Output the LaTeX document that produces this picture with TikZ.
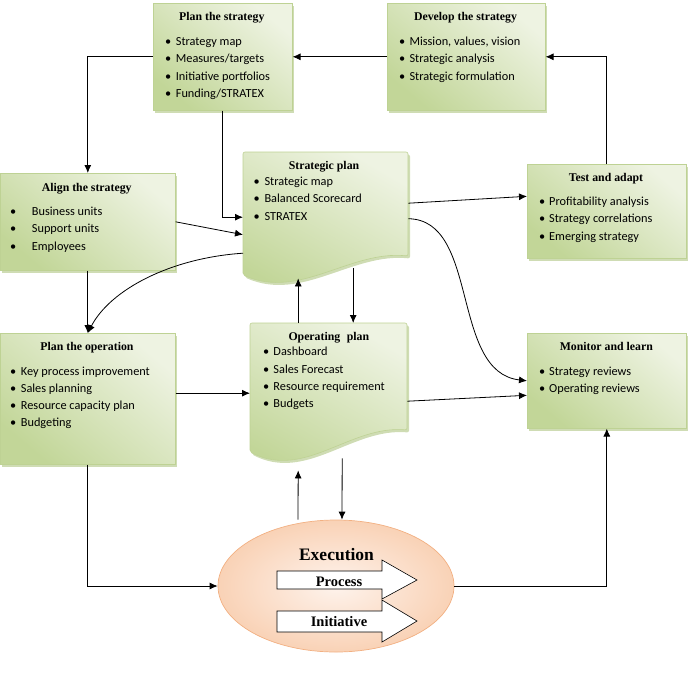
\documentclass[tikz,border=0pt]{standalone}
\usepackage{fontspec}
\setmainfont{Liberation Serif}
\newfontfamily\bodyfont{Carlito}
\usetikzlibrary{arrows.meta,shadows,calc,shapes.geometric}

\definecolor{gdark}{RGB}{194,214,152}
\definecolor{glight}{RGB}{238,243,226}
\definecolor{gline}{RGB}{190,210,148}
\definecolor{gshadow}{RGB}{168,192,118}
\definecolor{peach}{RGB}{249,210,182}
\definecolor{peachlight}{RGB}{254,243,236}
\definecolor{peachline}{RGB}{242,176,130}

% bullet followed by its text, the bullet in a box of width #1
\newcommand\blt[2]{\makebox[#1][l]{\textbullet}#2}

\tikzset{
  panel/.style={draw=gline, line width=0.6pt, top color=glight, bottom color=gdark,
    shading angle=-40, inner sep=0pt, anchor=north west,
    drop shadow={shadow xshift=2pt, shadow yshift=-2.5pt, fill=gshadow, opacity=0.55}},
  docpanel/.style={draw=gline, line width=0.6pt, top color=glight, bottom color=gdark,
    shading angle=-30, rounded corners=2pt,
    drop shadow={shadow xshift=2pt, shadow yshift=-2.5pt, fill=gshadow, opacity=0.55}},
  ghost/.style={inner sep=0pt, anchor=north west},
  ttl/.style={font=\fontsize{11.8}{13}\selectfont\bfseries, inner sep=0pt, anchor=base},
  item/.style={font=\bodyfont\fontsize{12.3}{14}\selectfont, inner sep=0pt, anchor=base west},
  arr/.style={-{Latex[length=8pt,width=7pt]}, line width=0.8pt},
  flow/.style={draw=black, line width=0.6pt, fill=white},
  flowtxt/.style={font=\fontsize{14.5}{16}\selectfont\bfseries, inner sep=0pt, anchor=base},
}

\begin{document}
\begin{tikzpicture}[x=1pt,y=-1pt]
\useasboundingbox (0,0) rectangle (688,678);

% ---------- rectangular panels ----------
\node[panel, minimum width=139pt, minimum height=107pt] (ps) at (153,3) {};
\node[panel, minimum width=158pt, minimum height=107pt] (ds) at (387,3) {};
\node[panel, minimum width=175pt, minimum height=97pt]  (as) at (0,173) {};
\node[panel, minimum width=159pt, minimum height=94pt]  (ta) at (527,164) {};
\node[panel, minimum width=175pt, minimum height=131pt] (po) at (0,333) {};
\node[panel, minimum width=159pt, minimum height=95pt]  (ml) at (527,333) {};

% ---------- document shapes ----------
\path[docpanel] (243,152) -- (408,152) -- (408,256)
  .. controls (350,250) and (300,300) .. (243,275) -- cycle;
\node[ghost, minimum width=165pt, minimum height=133pt] (sp) at (243,152) {};

\path[docpanel] (250,323) -- (407,323) -- (407,430)
  .. controls (350,425) and (305,480) .. (250,452) -- cycle;
\node[ghost, minimum width=157pt, minimum height=140pt] (op) at (250,323) {};

% ---------- execution ellipse ----------
\node[ellipse, draw=peachline, line width=0.7pt, inner color=peachlight, outer color=peach,
      minimum width=236pt, minimum height=132pt, inner sep=0pt] (ex) at (336,586) {};
\path[flow] (277,571) -- (382,571) -- (382,560) -- (417,580) -- (382,599)
  -- (382,589) -- (277,589) -- cycle;
\path[flow] (277,611) -- (382,611) -- (382,600) -- (417,621) -- (382,642)
  -- (382,632) -- (277,632) -- cycle;
\node[font=\fontsize{17.5}{19}\selectfont\bfseries, inner sep=0pt, anchor=base] (ex-t) at (336.5,560) {Execution};
\node[flowtxt] (ex-p) at (339,586.7) {Process};
\node[flowtxt] (ex-i) at (339,626.7) {Initiative};

% ---------- titles ----------
\node[ttl] (ps-t) at (221.8,20.7) {Plan the strategy};
\node[ttl] (ds-t) at (465.5,20.7) {Develop the strategy};
\node[ttl] (as-t) at (86.7,191.7) {Align the strategy};
\node[ttl] (sp-t) at (324,169.3) {Strategic plan};
\node[ttl] (ta-t) at (606,181.7) {Test and adapt};
\node[ttl] (po-t) at (87,350.7) {Plan the operation};
\node[ttl] (op-t) at (328.8,340.7) {Operating\hspace{0.55em}plan};
\node[ttl] (ml-t) at (606.3,350.7) {Monitor and learn};

% ---------- bullet lists ----------
\foreach \t [count=\i from 0] in {Strategy map, Measures/targets, Initiative portfolios, Funding/STRATEX}
  \node[item] (ps-\i) at (165,{45.7+17.2*\i}) {\blt{10.7pt}{\t}};
\foreach \t [count=\i from 0] in {{Mission, values, vision}, Strategic analysis, Strategic formulation}
  \node[item] (ds-\i) at (399,{45.7+17.2*\i}) {\blt{10.3pt}{\t}};
\foreach \t [count=\i from 0] in {Business units, Support units, Employees}
  \node[item] (as-\i) at (10,{215+17.5*\i}) {\blt{21.7pt}{\t}};
\foreach \t [count=\i from 0] in {Strategic map, Balanced Scorecard, STRATEX}
  \node[item] (sp-\i) at (253.5,{185+17.5*\i}) {\blt{10.8pt}{\t}};
\foreach \t [count=\i from 0] in {Profitability analysis, Strategy correlations, Emerging strategy}
  \node[item] (ta-\i) at (539,{205+17.5*\i}) {\blt{10pt}{\t}};
\foreach \t [count=\i from 0] in {Key process improvement, Sales planning, Resource capacity plan, Budgeting}
  \node[item] (po-\i) at (10,{375+17.2*\i}) {\blt{10.7pt}{\t}};
\foreach \t [count=\i from 0] in {Dashboard, Sales Forecast, Resource requirement, Budgets}
  \node[item] (op-\i) at (263,{355.7+17.3*\i}) {\blt{10.3pt}{\t}};
\foreach \t [count=\i from 0] in {Strategy reviews, Operating reviews}
  \node[item] (ml-\i) at (539,{375+17.3*\i}) {\blt{10pt}{\t}};

% ---------- connectors ----------
\draw[arr] (ds.west) -- (ps.east);
\draw[arr] (ta.north) |- (ds.east);
\draw[arr] (ps.west) -| (as.north);
\draw[arr] (ps.south) |- ([yshift=1.5pt]sp.west);
\draw[arr] (as.east) -- ([yshift=-16pt]sp.west);
\draw[arr] ([yshift=-34.5pt]sp.west) .. controls (170,258) and (110,290) .. (po.north);
\draw[arr] (as.south) -- (po.north);
\draw[arr] ([yshift=15.5pt]sp.east) -- ([yshift=15pt]ta.west);
\draw[arr] (sp.east) .. controls (480,220) and (450,372) .. (ml.west);
\draw[arr] (op.west -| po.east) -- (op.west);
\draw[arr] ([yshift=-8pt]op.east) -- ([yshift=-14.5pt]ml.west);
\draw[arr] ([xshift=-27.5pt]sp.south |- op.north) -- ([xshift=-27.5pt,yshift=7pt]sp.south);
\draw[arr] ([xshift=27.5pt,yshift=17pt]sp.south) -- ([xshift=27.5pt]sp.south |- op.north);
\draw[arr] ([xshift=-38pt]ex.north) -- ([xshift=-30.5pt,yshift=-7pt]op.south);
\draw[arr] ([xshift=13.5pt,yshift=5pt]op.south) -- ([xshift=6pt]ex.north);
\draw[arr] (po.south) |- (ex.west);
\draw[arr] (ex.east) -| (ml.south);
\end{tikzpicture}
\end{document}
